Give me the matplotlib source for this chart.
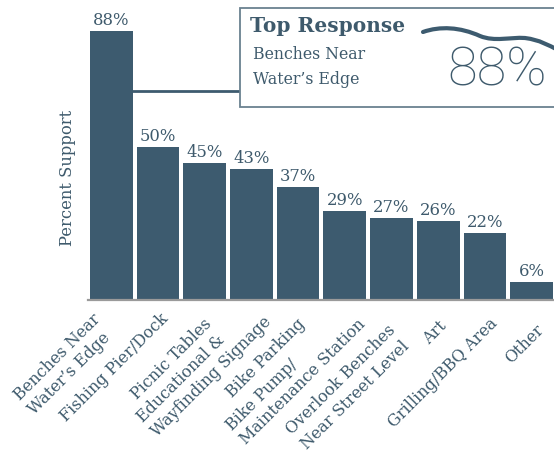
import numpy as np
import matplotlib.pyplot as plt
from matplotlib.patches import Rectangle, PathPatch
from matplotlib.path import Path

categories = ["Benches Near\nWater\u2019s Edge", "Fishing Pier/Dock", "Picnic Tables",
              "Educational &\nWayfinding Signage", "Bike Parking",
              "Bike Pump/\nMaintenance Station", "Overlook Benches\nNear Street Level",
              "Art", "Grilling/BBQ Area", "Other"]
support = [88, 50, 45, 43, 37, 29, 27, 26, 22, 6]

# label nudges in pixels (dx, dy) relative to the bar centre below the axis
label_offsets = [(-6, -24), (8, -16), (4, -21), (10, -12), (4, -21),
                 (11, -15), (9, -35), (6, -24), (10, -21), (10, -27)]

bar_color = "#3d5b6f"
text_color = "#3e5a6c"
serif = ["DejaVu Serif"]

fig = plt.figure(figsize=(5.54, 4.65), dpi=100)
ax = fig.add_axes([88 / 554, 165 / 465, 466 / 554, 300 / 465])

x = np.arange(len(categories))
bars = ax.bar(x, support, width=0.914, color=bar_color, edgecolor="none", zorder=2)
ax.set_xlim(-0.5, 9.48)
ax.set_ylim(0, 98.3)

for b, v in zip(bars, support):
    ax.annotate(f"{v}%", (b.get_x() + b.get_width() / 2, v), xytext=(0, 1.5),
                textcoords="offset points", ha="center", va="bottom",
                fontsize=11.8, color=text_color, family=serif)

for s in ["top", "right", "left"]:
    ax.spines[s].set_visible(False)
ax.spines["bottom"].set_color("#9a9a9a")
ax.spines["bottom"].set_linewidth(1.6)
ax.set_yticks([])
ax.set_xticks([])

for xi, lab, (dx, dy) in zip(x, categories, label_offsets):
    ax.annotate(lab, xy=(xi, 0), xycoords=("data", "axes fraction"),
                xytext=(dx, dy), textcoords="offset pixels", rotation=45,
                ha="right", va="center", rotation_mode="anchor", multialignment="left",
                fontsize=11.5, color=text_color, family=serif, linespacing=1.25,
                annotation_clip=False)

fig.text(68 / 554, 1 - 178 / 465, "Percent Support", rotation=90, ha="center", va="center",
         fontsize=11.8, color=text_color, family=serif)

# callout box
box = Rectangle((240 / 554, 1 - 107 / 465), 330 / 554, 99 / 465, transform=fig.transFigure,
                facecolor="white", edgecolor="#6a8190", linewidth=1.3, zorder=5, clip_on=False)
fig.add_artist(box)
fig.add_artist(plt.Line2D([133 / 554, 240 / 554], [1 - 91 / 465, 1 - 91 / 465],
                          transform=fig.transFigure, color=bar_color, linewidth=2, zorder=4))
fig.text(250 / 554, 1 - 26 / 465, "Top Response", ha="left", va="center", fontsize=14.5,
         fontweight="bold", color=text_color, family=serif, zorder=6)
fig.text(253 / 554, 1 - 67 / 465, "Benches Near\nWater\u2019s Edge", ha="left", va="center",
         fontsize=11.3, color=text_color, family=serif, linespacing=1.6, zorder=6)
fig.text(497 / 554, 1 - 71 / 465, "88%", ha="center", va="center", fontsize=39,
         color=text_color, family=["Roboto", "DejaVu Sans"], fontweight="light", zorder=6)

# decorative wave
W, H = 554, 465
pts = [(423, 32), (440, 26), (460, 27), (480, 36), (495, 42), (510, 37), (525, 38),
       (540, 40), (548, 45), (558, 50)]
verts = [(px / W, 1 - py / H) for px, py in pts]
codes = [Path.MOVETO] + [Path.CURVE4] * 9
wave = PathPatch(Path(verts, codes), transform=fig.transFigure, facecolor="none",
                 edgecolor=bar_color, linewidth=3.0, zorder=6, capstyle="round")
fig.add_artist(wave)

fig.savefig("out.png", dpi=100)
